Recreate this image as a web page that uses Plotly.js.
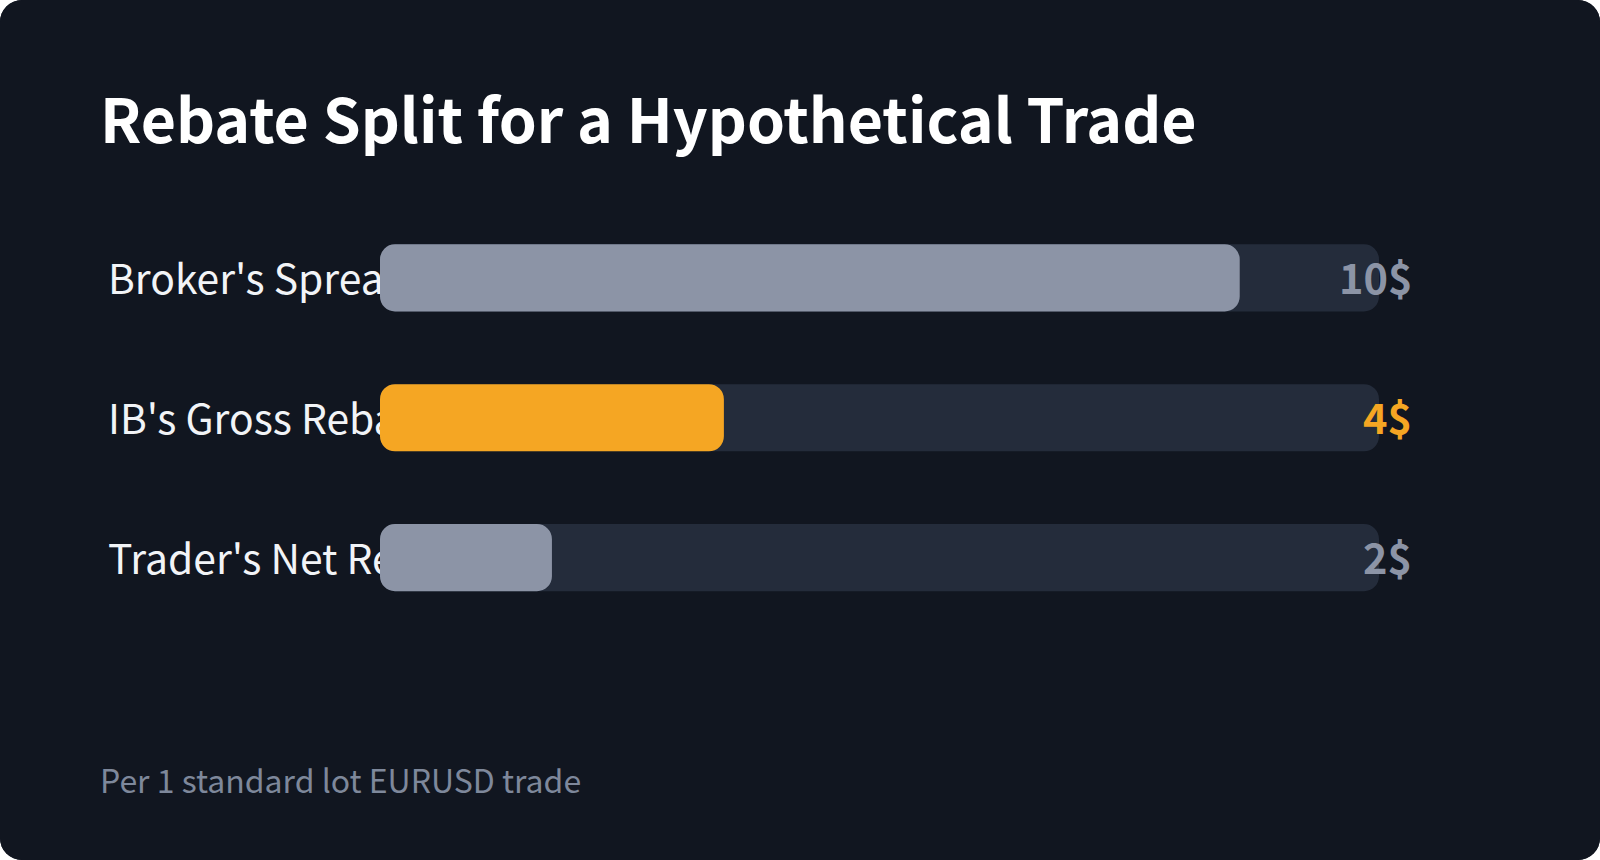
<!DOCTYPE html>
<html>
<head>
<meta charset="utf-8">
<script src="https://cdn.plot.ly/plotly-3.0.1.min.js"></script>
<style>
  html, body { margin: 0; padding: 0; background: #ffffff; }
  #card { width: 1600px; height: 860px; border-radius: 22px; overflow: hidden; background: #111620; }
</style>
</head>
<body>
<div id="card"></div>
<script>
// ---- data ----
const categories = ["Broker's Spread", "IB's Gross Rebate", "Trader's Net Rebate"];
const values = [10, 4, 2];
const valueLabels = ["10$", "4$", "2$"];
const trackValues = [11.62, 11.62, 11.62];
const barColors = ["#8c94a6", "#f5a623", "#8c94a6"];
const labelColors = ["#8c94a6", "#f5a623", "#8c94a6"];
const titleText = "Rebate Split for a Hypothetical Trade";
const footnoteText = "Per 1 standard lot EURUSD trade";

const FONT = '"Noto Sans CJK SC", "Noto Sans", sans-serif';
const W = 1600, H = 860;
const yDomain = [1 - 627.5 / H, 1 - 208 / H];
const labelDomain = [yDomain[0] - 6 / H, yDomain[1] - 6 / H];
const RADIUS = 15;

function roundedBar(vals, color) {
  return {
    type: 'bar', orientation: 'h', xaxis: 'x2', yaxis: 'y2',
    y: categories, x: vals, base: vals.map(() => 0),
    marker: { color: color, cornerradius: RADIUS },
    hoverinfo: 'skip', showlegend: false
  };
}

const traces = [
  // category labels (first subplot, so the bars drawn later cover them)
  {
    type: 'scatter', mode: 'text', xaxis: 'x', yaxis: 'y',
    x: categories.map(() => 0), y: categories, text: categories,
    textposition: 'middle right', cliponaxis: false, hoverinfo: 'skip',
    textfont: { family: FONT, size: 40.8, color: '#f2f4f7' }, showlegend: false
  },
  roundedBar(trackValues, '#242c3b'),
  roundedBar(values, barColors)
];

const annotations = categories.map((c, i) => ({
  xref: 'x2 domain', yref: 'y2', x: 1, y: c, xshift: 35, yshift: 2,
  xanchor: 'right', yanchor: 'middle', showarrow: false,
  text: valueLabels[i],
  font: { family: FONT, size: 41.5, weight: 700, color: labelColors[i] }
}));
annotations.push({
  xref: 'paper', yref: 'paper', x: 98 / W, y: 1 - 779 / H,
  xanchor: 'left', yanchor: 'middle', showarrow: false,
  text: footnoteText,
  font: { family: FONT, size: 32, color: '#7e889b' }
});

const layout = {
  width: W, height: H,
  margin: { l: 0, r: 0, t: 0, b: 0 },
  paper_bgcolor: '#111620', plot_bgcolor: 'rgba(0,0,0,0)',
  title: {
    text: '<b>' + titleText + '</b>',
    x: 100 / W, xref: 'container', xanchor: 'left',
    y: 1 - 122 / H, yref: 'container', yanchor: 'middle',
    font: { family: FONT, size: 60.8, color: '#ffffff' }
  },
  barmode: 'overlay', bargap: 0.52,
  xaxis: { domain: [108 / W, 300 / W], range: [0, 1], visible: false, fixedrange: true },
  yaxis: { domain: labelDomain, visible: false, type: 'category', range: [2.5, -0.5], fixedrange: true },
  xaxis2: { domain: [380 / W, 1379 / W], range: [0, trackValues[0]], visible: false, fixedrange: true },
  yaxis2: { domain: yDomain, visible: false, type: 'category', range: [2.5, -0.5], fixedrange: true, anchor: 'x2' },
  annotations: annotations,
  showlegend: false
};

Plotly.newPlot('card', traces, layout, { displayModeBar: false, staticPlot: true });
</script>
</body>
</html>
